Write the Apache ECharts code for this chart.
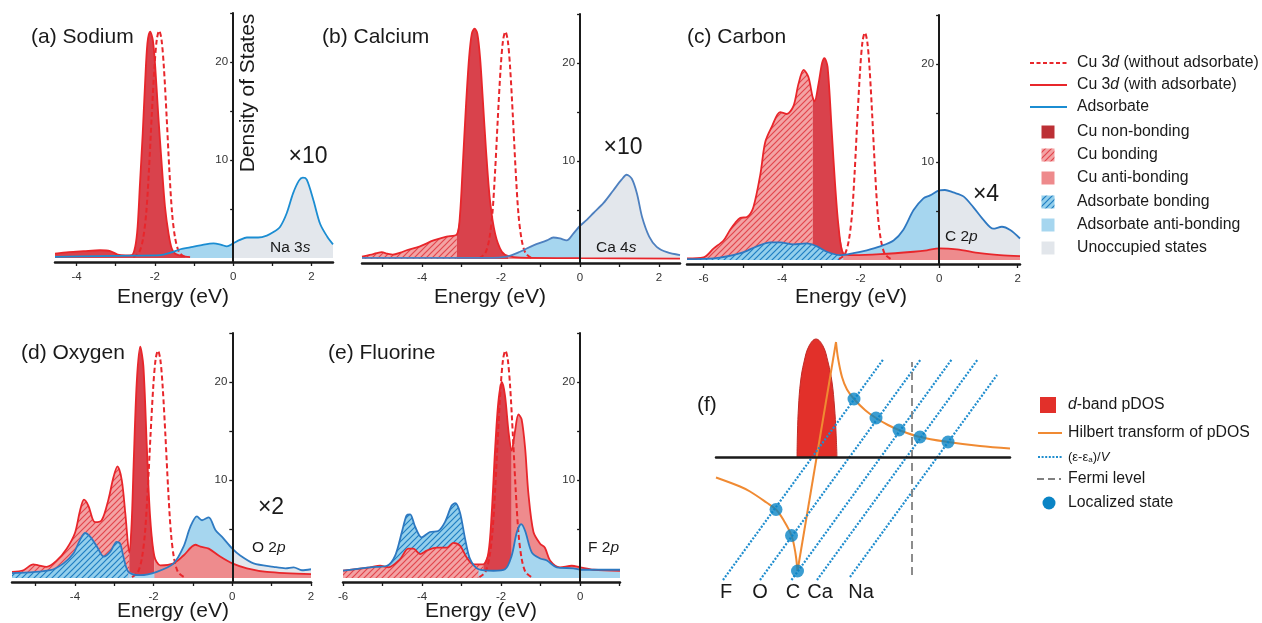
<!DOCTYPE html>
<html>
<head>
<meta charset="utf-8">
<script src="https://cdn.jsdelivr.net/npm/echarts@6/dist/echarts.min.js"></script>
<style>
  html, body { margin: 0; padding: 0; background: #ffffff; }
  #chart { width: 1262px; height: 623px; }
</style>
</head>
<body>
<div id="chart"></div>
<script>
// ---------------- data: [energy (eV), DOS] ----------------
// Cu 3d on the clean surface (dashed, same in every panel)
const cuClean = [[-2.55,0.1],[-2.4,0.6],[-2.3,2.0],[-2.22,4.6],[-2.15,9.0],[-2.08,14.5],[-2.01,19.5],[-1.95,22.3],[-1.89,23.2],[-1.83,22.3],[-1.77,19.5],[-1.7,14.5],[-1.63,9.0],[-1.56,4.6],[-1.48,2.0],[-1.38,0.6],[-1.23,0.1]];

// (a) Sodium
const naCu = [[-4.55,0.45],[-4.2,0.6],[-3.82,0.7],[-3.4,0.8],[-3.14,0.72],[-2.95,0.35],[-2.75,0.27],[-2.59,0.3],[-2.5,1.2],[-2.44,3.2],[-2.38,7.6],[-2.31,12.7],[-2.25,17.8],[-2.19,21.9],[-2.12,23.1],[-2.05,22.2],[-1.99,19.5],[-1.91,14.4],[-1.82,9.3],[-1.74,5.2],[-1.65,2.5],[-1.57,1.0],[-1.48,0.45],[-1.3,0.2],[-1.1,0.1]];
const naAdsorbate = [[-4.55,0.12],[-3.4,0.2],[-2.55,0.25],[-1.86,0.3],[-1.6,0.55],[-1.35,0.9],[-1.1,1.1],[-0.84,1.3],[-0.5,1.5],[-0.3,1.35],[-0.16,1.2],[0,1.5],[0.17,1.85],[0.35,2.1],[0.64,2.1],[0.86,2.3],[1.05,2.7],[1.2,3.2],[1.37,4.6],[1.53,6.6],[1.68,7.9],[1.78,8.2],[1.88,8.0],[2.05,5.9],[2.22,3.5],[2.4,2.2],[2.55,1.4]];
const naCuRegions = [-4.55, -1.1];            // non-bonding
const naAdsRegions = [-4.55, 0, 2.55];        // anti-bonding | unoccupied

// (b) Calcium
const caCu = [[-5.52,0.25],[-5.3,0.45],[-5.15,0.6],[-5.02,0.7],[-4.88,0.55],[-4.74,0.45],[-4.55,0.65],[-4.39,0.9],[-4.05,1.3],[-3.71,1.9],[-3.38,2.3],[-3.12,2.5],[-3.04,4.5],[-2.97,9.5],[-2.89,15.5],[-2.81,20.5],[-2.74,23.0],[-2.67,23.5],[-2.6,23.0],[-2.53,20.5],[-2.46,16.2],[-2.38,11.1],[-2.28,6.0],[-2.15,2.6],[-1.98,0.75],[-1.81,0.3],[-1.5,0.15],[0,0.1],[2.53,0.05]];
const caAdsorbate = [[-5.52,0.12],[-3.5,0.12],[-2.36,0.12],[-1.86,0.25],[-1.52,0.75],[-1.18,1.4],[-0.84,1.9],[-0.68,2.2],[-0.51,2.1],[-0.34,1.9],[-0.17,2.6],[0,3.4],[0.17,4.0],[0.34,4.7],[0.59,5.7],[0.84,7.0],[1.05,8.1],[1.18,8.6],[1.31,8.2],[1.44,6.7],[1.57,4.3],[1.75,2.3],[1.94,1.25],[2.2,0.7],[2.53,0.4]];
const caCuRegions = [-5.52, -3.12, -1.81, 2.53];   // bonding | non-bonding | anti-bonding
const caAdsRegions = [-5.52, 0, 2.53];

// (c) Carbon
const cCu = [[-6.42,0.17],[-6.0,0.27],[-5.74,1.2],[-5.49,2.0],[-5.32,3.1],[-5.19,3.8],[-5.06,4.3],[-4.89,4.4],[-4.73,5.4],[-4.55,8.8],[-4.43,12.0],[-4.26,13.6],[-4.05,15.1],[-3.88,14.9],[-3.71,15.7],[-3.58,18.0],[-3.45,19.4],[-3.33,18.7],[-3.22,16.6],[-3.17,16.2],[-3.07,18.0],[-2.98,20.1],[-2.92,20.6],[-2.84,19.7],[-2.73,12.9],[-2.65,7.8],[-2.56,3.4],[-2.44,0.68],[-2.18,0.5],[-1.5,0.6],[-0.65,0.85],[-0.31,1.0],[0,1.2],[0.45,1.1],[1.04,0.7],[1.55,0.5],[2.06,0.4]];
const cAdsorbate = [[-6.42,0.1],[-5.74,0.17],[-5.06,0.7],[-4.64,1.4],[-4.3,1.8],[-4.05,1.8],[-3.71,1.6],[-3.37,1.7],[-3.11,1.4],[-2.86,0.85],[-2.52,0.5],[-2.18,0.7],[-1.84,1.0],[-1.5,1.4],[-1.16,2.0],[-0.91,3.1],[-0.65,5.1],[-0.4,6.3],[-0.23,6.6],[0,7.1],[0.15,7.15],[0.36,6.9],[0.62,6.5],[0.87,5.4],[1.13,4.1],[1.38,3.2],[1.6,3.4],[1.81,3.06],[2.06,2.2]];
const cCuRegions = [-6.42, -3.22, -2.44, 2.06];
const cAdsRegions = [-6.42, -2.52, 0, 2.06];        // bonding | anti-bonding | unoccupied

// (d) Oxygen
const oCu = [[-5.6,0.64],[-5.31,0.8],[-5.06,1.4],[-4.93,1.3],[-4.72,1.15],[-4.46,1.8],[-4.21,3.0],[-4.0,4.6],[-3.87,6.9],[-3.77,8.0],[-3.66,7.4],[-3.49,5.7],[-3.32,5.9],[-3.15,8.0],[-3.02,10.3],[-2.92,11.4],[-2.81,10.0],[-2.72,6.6],[-2.62,2.6],[-2.56,5.5],[-2.51,11.4],[-2.43,19.9],[-2.34,23.6],[-2.26,21.6],[-2.17,13.1],[-2.09,6.3],[-1.98,2.2],[-1.83,1.3],[-1.49,1.5],[-1.24,2.3],[-0.94,3.4],[-0.81,3.2],[-0.6,3.0],[-0.31,2.2],[0,1.5],[0.37,1.0],[0.88,0.64],[2.0,0.4]];
const oAdsorbate = [[-5.6,0.5],[-4.63,0.8],[-4.29,1.5],[-4.04,2.5],[-3.87,3.9],[-3.74,4.6],[-3.61,4.2],[-3.44,3.2],[-3.27,2.2],[-3.1,2.7],[-2.94,3.7],[-2.85,3.5],[-2.77,2.2],[-2.64,0.64],[-2.34,0.3],[-1.92,0.64],[-1.49,1.5],[-1.24,3.2],[-1.07,5.2],[-0.9,6.3],[-0.77,5.9],[-0.6,6.2],[-0.43,4.9],[-0.26,4.2],[0,3.0],[0.2,2.3],[0.54,1.5],[1.05,1.15],[1.35,1.0],[1.56,1.1],[1.77,0.8],[2.0,0.9]];
const oCuRegions = [-5.6, -2.62, -1.98, 2.0];
const oAdsRegions = [-5.6, -2.64, 0, 2.0];

// (e) Fluorine
const fCu = [[-6.0,0.75],[-5.32,1.1],[-5.06,1.26],[-4.85,1.1],[-4.56,1.9],[-4.35,3.0],[-4.22,3.0],[-4.05,2.45],[-3.88,2.8],[-3.63,3.1],[-3.37,3.1],[-3.21,3.6],[-3.04,3.3],[-2.87,2.1],[-2.7,1.4],[-2.45,1.4],[-2.32,2.6],[-2.24,6.4],[-2.15,13.2],[-2.07,17.9],[-1.98,20.0],[-1.9,18.6],[-1.81,14.9],[-1.73,13.0],[-1.65,14.9],[-1.56,16.7],[-1.48,16.2],[-1.39,13.2],[-1.31,8.7],[-1.18,4.7],[-1.01,3.5],[-0.89,3.1],[-0.76,1.8],[-0.51,1.1],[-0.21,1.26],[0,1.1],[0.34,0.85],[1.01,0.75]];
const fAdsorbate = [[-6.0,0.75],[-5.32,1.1],[-4.89,1.26],[-4.68,2.3],[-4.51,4.7],[-4.39,6.4],[-4.3,6.5],[-4.18,5.3],[-4.01,4.15],[-3.8,4.7],[-3.59,4.8],[-3.42,5.7],[-3.25,7.4],[-3.16,7.65],[-3.04,6.7],[-2.91,4.0],[-2.78,1.9],[-2.57,0.9],[-2.19,0.75],[-1.9,0.9],[-1.73,2.3],[-1.6,4.7],[-1.49,5.5],[-1.39,4.8],[-1.22,2.6],[-1.01,2.0],[-0.84,1.8],[-0.59,1.1],[-0.17,1.0],[0,0.85],[1.01,0.85]];
const fCuRegions = [-6.0, -2.45, -1.73, 1.01];
const fAdsRegions = [-6.0, -2.57, 1.01];

// axis ticks and labels
const ticksA = [-4,-3,-2,-1,0,1,2],    labelsA = [-4,-2,0,2];
const ticksB = [-5,-4,-3,-2,-1,0,1,2], labelsB = [-4,-2,0,2];
const ticksC = [-6,-5,-4,-3,-2,-1,0,1,2], labelsC = [-6,-4,-2,0,2];
const ticksD = [-5,-4,-3,-2,-1,0,1,2], labelsD = [-4,-2,0,2];
const ticksE = [-6,-5,-4,-3,-2,-1,0,1], labelsE = [-6,-4,-2,0];
const yTicks = [5,10,15,20,25], yLabels = [10,20];

// (f) Newns-Anderson schematic (energy relative to Fermi level, arbitrary units)
const dBand = [[-2.30,0],[-2.29,0.5],[-2.27,1.0],[-2.23,1.5],[-2.16,1.9],[-2.06,2.22],[-1.92,2.36],[-1.78,2.22],[-1.68,1.9],[-1.6,1.5],[-1.55,1.0],[-1.52,0.5],[-1.5,0]];
const hilbertLow = [[-3.92,-0.41],[-3.44,-0.59],[-3.24,-0.69],[-2.91,-0.91],[-2.72,-1.05],[-2.57,-1.26],[-2.41,-1.57],[-2.33,-1.93],[-2.29,-2.28]];
const hilbertRise = [[-2.29,-2.28],[-1.52,2.3]];
const hilbertHigh = [[-1.52,2.3],[-1.48,1.98],[-1.4,1.6],[-1.3,1.35],[-1.16,1.16],[-0.94,0.94],[-0.72,0.78],[-0.48,0.64],[-0.26,0.54],[0.16,0.40],[0.72,0.30],[1.36,0.22],[1.96,0.17]];
const lineF  = [[-3.78,-2.46],[-0.57,1.96]];
const lineO  = [[-3.04,-2.46],[0.18,1.96]];
const lineC  = [[-2.41,-2.46],[0.80,1.96]];
const lineCa = [[-1.90,-2.46],[1.32,1.96]];
const lineNa = [[-1.24,-2.40],[1.70,1.64]];
const fermiLevel = [[0,-2.36],[0,1.9]];
const localizedStates = [[-2.72,-1.05],[-2.41,-1.57],[-2.29,-2.28],[-1.16,1.16],[-0.72,0.78],[-0.26,0.54],[0.16,0.40],[0.72,0.30]];

// ---------------- styles ----------------
const FONT = '"Liberation Sans", Arial, Helvetica, sans-serif';
const RED = '#E8262B';

function makeHatch(bg, fg) {
  const s = 6;
  const c = document.createElement('canvas');
  c.width = s; c.height = s;
  const g = c.getContext('2d');
  g.fillStyle = bg; g.fillRect(0, 0, s, s);
  g.strokeStyle = fg; g.lineWidth = 1.2;
  g.beginPath();
  g.moveTo(0, s); g.lineTo(s, 0);
  g.moveTo(-1, 1); g.lineTo(1, -1);
  g.moveTo(s - 1, s + 1); g.lineTo(s + 1, s - 1);
  g.stroke();
  return { image: c, repeat: 'repeat' };
}

const FILL = {
  dark: '#D9424C',
  hatchRed: makeHatch('#F3A3A4', '#E2454D'),
  lightRed: '#EE8B8D',
  hatchBlue: makeHatch('#93CFEC', '#1F7EC2'),
  lightBlue: '#A6D6EF',
  gray: '#E3E7EC'
};

const SMOOTH = 0.3;

const panels = [
  { box: [55, 13, 278, 249], range: [-4.55, 2.55], ticks: ticksA, labels: labelsA, yMin: -0.4,
    cu: naCu, ads: naAdsorbate, adsColor: '#1B8DD2',
    layers: [['ads', 'lightBlue', naAdsRegions[0], naAdsRegions[1]], ['ads', 'gray', naAdsRegions[1], naAdsRegions[2]],
             ['cu', 'dark', naCuRegions[0], naCuRegions[1]]] },
  { box: [362, 14, 318, 249], range: [-5.52, 2.53], ticks: ticksB, labels: labelsB, yMin: -0.4,
    cu: caCu, ads: caAdsorbate, adsColor: '#4E80BF',
    layers: [['ads', 'lightBlue', caAdsRegions[0], caAdsRegions[1]], ['ads', 'gray', caAdsRegions[1], caAdsRegions[2]],
             ['cu', 'hatchRed', caCuRegions[0], caCuRegions[1]], ['cu', 'dark', caCuRegions[1], caCuRegions[2]],
             ['cu', 'lightRed', caCuRegions[2], caCuRegions[3]]] },
  { box: [687, 15, 333, 249], range: [-6.42, 2.06], ticks: ticksC, labels: labelsC, yMin: -0.4,
    cu: cCu, ads: cAdsorbate, adsColor: '#2E78C1',
    layers: [['cu', 'hatchRed', cCuRegions[0], cCuRegions[1]], ['cu', 'dark', cCuRegions[1], cCuRegions[2]],
             ['ads', 'hatchBlue', cAdsRegions[0], cAdsRegions[1]], ['ads', 'lightBlue', cAdsRegions[1], cAdsRegions[2]],
             ['ads', 'gray', cAdsRegions[2], cAdsRegions[3]], ['cu', 'lightRed', cCuRegions[2], cCuRegions[3]]] },
  { box: [12, 333, 299, 249], range: [-5.6, 2.0], ticks: ticksD, labels: labelsD, yMin: -0.4,
    cu: oCu, ads: oAdsorbate, adsColor: '#2F7BC2',
    layers: [['cu', 'hatchRed', oCuRegions[0], oCuRegions[1]], ['ads', 'hatchBlue', oAdsRegions[0], oAdsRegions[1]],
             ['cu', 'dark', oCuRegions[1], oCuRegions[2]], ['ads', 'lightBlue', oAdsRegions[1], oAdsRegions[2]],
             ['ads', 'gray', oAdsRegions[2], oAdsRegions[3]], ['cu', 'lightRed', oCuRegions[2], oCuRegions[3]]] },
  { box: [343, 333, 277, 249], range: [-6.0, 1.01], ticks: ticksE, labels: labelsE, yMin: -0.4,
    cu: fCu, ads: fAdsorbate, adsColor: '#2D78C0',
    layers: [['ads', 'hatchBlue', fAdsRegions[0], fAdsRegions[1]], ['cu', 'hatchRed', fCuRegions[0], fCuRegions[1]],
             ['cu', 'dark', fCuRegions[1], fCuRegions[2]], ['cu', 'lightRed', fCuRegions[2], fCuRegions[3]],
             ['ads', 'lightBlue', fAdsRegions[1], fAdsRegions[2]]] }
];

const grid = [], xAxis = [], yAxis = [], series = [];
const axisColor = '#1a1a1a';

panels.forEach((p, i) => {
  grid.push({ left: p.box[0], top: p.box[1], width: p.box[2], height: p.box[3], containLabel: false, outerBoundsMode: 'none' });
  xAxis.push({
    gridIndex: i, type: 'value', min: p.range[0], max: p.range[1], z: 5,
    axisLine: { onZero: false, lineStyle: { color: axisColor, width: 2.5 } },
    axisTick: { show: true, customValues: p.ticks, length: 4, lineStyle: { color: axisColor, width: 1.3 } },
    axisLabel: { show: true, customValues: p.labels, fontSize: 11.5, color: '#333', margin: 9, fontFamily: FONT },
    splitLine: { show: false }
  });
  // the DOS axis stands at E = 0, shifted in from the grid's left edge
  const zeroShift = p.box[2] * (0 - p.range[0]) / (p.range[1] - p.range[0]);
  yAxis.push({
    gridIndex: i, type: 'value', min: p.yMin, max: 25, z: 5, position: 'left', offset: -zeroShift,
    axisLine: { show: true, onZero: false, lineStyle: { color: axisColor, width: 2 } },
    axisTick: { show: true, customValues: yTicks, length: 3, lineStyle: { color: axisColor, width: 1.3 } },
    axisLabel: { show: true, customValues: yLabels, fontSize: 11.5, color: '#333', margin: 5, fontFamily: FONT },
    splitLine: { show: false }
  });
  // clean-surface Cu 3d (dashed, underneath the fills)
  series.push({
    type: 'line', xAxisIndex: i, yAxisIndex: i, data: cuClean, smooth: SMOOTH, symbol: 'none', silent: true,
    lineStyle: { color: RED, width: 2, type: [5, 3] }
  });
  // filled regions, split by energy
  p.layers.forEach(([which, style, from, to]) => {
    const src = which === 'cu' ? p.cu : p.ads;
    const data = src.filter(d => d[0] >= from - 1e-9 && d[0] <= to + 1e-9);
    series.push({
      type: 'line', xAxisIndex: i, yAxisIndex: i, data, smooth: SMOOTH, symbol: 'none', silent: true,
      lineStyle: { width: 0, opacity: 0 },
      areaStyle: { color: FILL[style], opacity: 1 }
    });
  });
  // outlines
  series.push({
    type: 'line', xAxisIndex: i, yAxisIndex: i, data: p.cu, smooth: SMOOTH, symbol: 'none', silent: true,
    lineStyle: { color: RED, width: 1.8 }
  });
  series.push({
    type: 'line', xAxisIndex: i, yAxisIndex: i, data: p.ads, smooth: SMOOTH, symbol: 'none', silent: true,
    lineStyle: { color: p.adsColor, width: 1.8 }
  });
});

// (f) schematic panel
const fi = panels.length;
grid.push({ left: 716, top: 330, width: 294, height: 262, containLabel: false, outerBoundsMode: 'none' });
xAxis.push({ gridIndex: fi, type: 'value', min: -3.92, max: 1.96, z: 5,
  axisLine: { onZero: true, lineStyle: { color: axisColor, width: 2.5 } },
  axisTick: { show: false }, axisLabel: { show: false }, splitLine: { show: false } });
yAxis.push({ gridIndex: fi, type: 'value', min: -2.7, max: 2.54, show: false, splitLine: { show: false } });

const ORANGE = '#F08A32', DOT_BLUE = '#1F8DCE', STATE_BLUE = '#0A84C5';
series.push({ type: 'line', xAxisIndex: fi, yAxisIndex: fi, data: dBand, smooth: 0.4, symbol: 'none', silent: true,
  lineStyle: { color: '#C22A26', width: 1 }, areaStyle: { color: '#E2302A', opacity: 1 } });
[hilbertLow, hilbertRise, hilbertHigh].forEach((d, k) => {
  series.push({ type: 'line', xAxisIndex: fi, yAxisIndex: fi, data: d, smooth: k === 1 ? false : 0.35, symbol: 'none', silent: true,
    lineStyle: { color: ORANGE, width: 2 } });
});
[lineF, lineO, lineC, lineCa, lineNa].forEach(d => {
  series.push({ type: 'line', xAxisIndex: fi, yAxisIndex: fi, data: d, symbol: 'none', silent: true,
    lineStyle: { color: DOT_BLUE, width: 2.2, type: [2, 1.6] } });
});
series.push({ type: 'line', xAxisIndex: fi, yAxisIndex: fi, data: fermiLevel, symbol: 'none', silent: true,
  lineStyle: { color: '#808080', width: 1.8, type: [8, 5] } });
series.push({ type: 'scatter', xAxisIndex: fi, yAxisIndex: fi, data: localizedStates, symbol: 'circle', symbolSize: 13,
  silent: true, itemStyle: { color: STATE_BLUE }, z: 4 });

// ---------------- texts and keys ----------------
function label(x, y, text, size, extra) {
  return {
    type: 'text', x, y, z: 100, silent: true,
    style: Object.assign({ text, fontSize: size, fontFamily: FONT, fill: '#1a1a1a',
      textAlign: 'left', align: 'left', textVerticalAlign: 'middle', verticalAlign: 'middle' }, extra || {})
  };
}
function centered(x, y, text, size, extra) {
  return label(x, y, text, size, Object.assign({ textAlign: 'center', align: 'center' }, extra || {}));
}
const italic = size => ({ rich: { i: { fontStyle: 'italic', fontSize: size, fontFamily: FONT, fill: '#1a1a1a' } } });

const graphics = [
  label(31, 37, '(a) Sodium', 21), label(322, 37, '(b) Calcium', 21), label(687, 37, '(c) Carbon', 21),
  label(21, 353, '(d) Oxygen', 21), label(328, 353, '(e) Fluorine', 21), label(697, 405, '(f)', 21),
  centered(173, 297, 'Energy (eV)', 21), centered(490, 297, 'Energy (eV)', 21), centered(851, 297, 'Energy (eV)', 21),
  centered(173, 611, 'Energy (eV)', 21), centered(481, 611, 'Energy (eV)', 21),
  Object.assign(centered(248, 93, 'Density of States', 21), { rotation: Math.PI / 2 }),
  centered(308, 157, '×10', 23), centered(623, 148, '×10', 23), centered(986, 195, '×4', 23), centered(271, 508, '×2', 23),
  label(270, 248, 'Na 3{i|s}', 15.5, italic(15.5)), label(596, 248, 'Ca 4{i|s}', 15.5, italic(15.5)),
  label(945, 237, 'C 2{i|p}', 15.5, italic(15.5)), label(252, 548, 'O 2{i|p}', 15.5, italic(15.5)),
  label(588, 548, 'F 2{i|p}', 15.5, italic(15.5)),
  centered(726, 592, 'F', 20), centered(760, 592, 'O', 20), centered(793, 592, 'C', 20),
  centered(820, 592, 'Ca', 20), centered(861, 592, 'Na', 20)
];

// key for panels (a)-(e)
const KEY_SIZE = 15.8;
function keyLine(x1, x2, y, stroke, dash, width) {
  return { type: 'line', z: 100, silent: true, shape: { x1, y1: y, x2, y2: y },
    style: { stroke, lineWidth: width || 2, lineDash: dash || null } };
}
function keyBox(cx, cy, size, fill) {
  return { type: 'rect', z: 100, silent: true, shape: { x: cx - size / 2, y: cy - size / 2, width: size, height: size },
    style: { fill } };
}
graphics.push(
  keyLine(1030, 1067, 63, RED, [4, 2.5]), label(1077, 63, 'Cu 3{i|d} (without adsorbate)', KEY_SIZE, italic(KEY_SIZE)),
  keyLine(1030, 1067, 85, RED), label(1077, 85, 'Cu 3{i|d} (with adsorbate)', KEY_SIZE, italic(KEY_SIZE)),
  keyLine(1030, 1067, 107, '#1B8DD2'), label(1077, 107, 'Adsorbate', KEY_SIZE),
  keyBox(1048, 132, 13, '#BC3035'), label(1077, 132, 'Cu non-bonding', KEY_SIZE),
  keyBox(1048, 155, 13, FILL.hatchRed), label(1077, 155, 'Cu bonding', KEY_SIZE),
  keyBox(1048, 178, 13, '#EE8A8C'), label(1077, 178, 'Cu anti-bonding', KEY_SIZE),
  keyBox(1048, 202, 13, FILL.hatchBlue), label(1077, 202, 'Adsorbate bonding', KEY_SIZE),
  keyBox(1048, 225, 13, FILL.lightBlue), label(1077, 225, 'Adsorbate anti-bonding', KEY_SIZE),
  keyBox(1048, 248, 13, '#E2E6EB'), label(1077, 248, 'Unoccupied states', KEY_SIZE)
);
// key for panel (f)
graphics.push(
  keyBox(1048, 405, 16, '#E2302A'), label(1068, 405, '{i|d}-band pDOS', KEY_SIZE, italic(KEY_SIZE)),
  keyLine(1038, 1062, 433, ORANGE), label(1068, 433, 'Hilbert transform of pDOS', KEY_SIZE),
  keyLine(1038, 1062, 457, DOT_BLUE, [2, 1.6], 2.2),
  label(1068, 457, '(ε-ε{s|a})/{i|V}', 13, { rich: {
    s: { fontSize: 8, fontFamily: FONT, fill: '#1a1a1a', verticalAlign: 'bottom', lineHeight: 10 },
    i: { fontStyle: 'italic', fontSize: 13, fontFamily: FONT, fill: '#1a1a1a' } } }),
  keyLine(1037, 1061, 479, '#808080', [7, 4]), label(1068, 479, 'Fermi level', KEY_SIZE),
  { type: 'circle', z: 100, silent: true, shape: { cx: 1049, cy: 503, r: 6.5 }, style: { fill: STATE_BLUE } },
  label(1068, 503, 'Localized state', KEY_SIZE)
);

const chart = echarts.init(document.getElementById('chart'), null, { renderer: 'canvas' });
chart.setOption({
  backgroundColor: '#ffffff',
  animation: false,
  grid, xAxis, yAxis, series,
  graphic: { elements: graphics }
});
</script>
</body>
</html>
